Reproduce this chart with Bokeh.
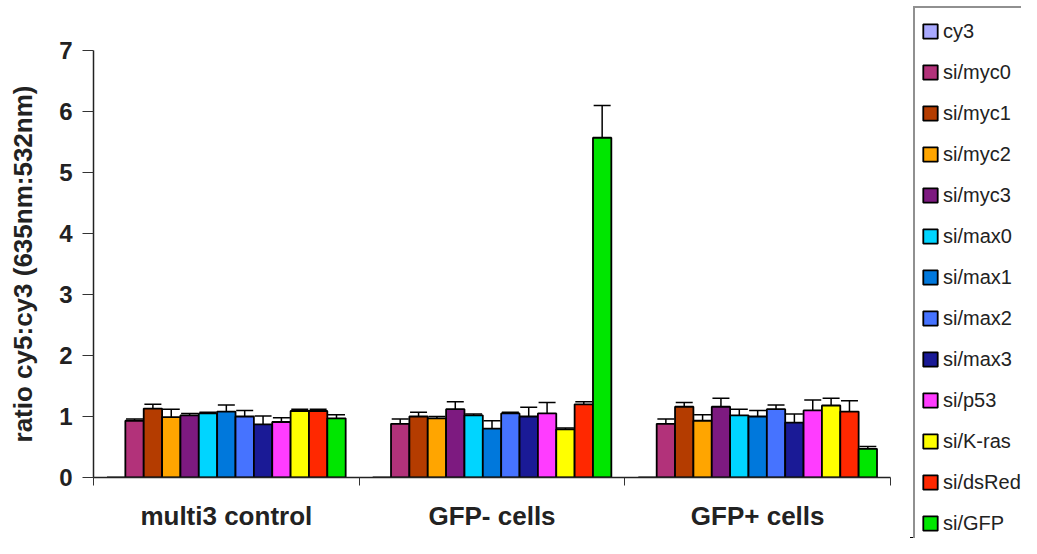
from bokeh.plotting import figure
from bokeh.layouts import row
from bokeh.models import (ColumnDataSource, FactorRange, Range1d, LinearAxis, CategoricalAxis,
                          FixedTicker, Whisker, TeeHead, Legend)
from bokeh.transform import dodge
from bokeh.embed import file_html
from bokeh.resources import INLINE

groups = ["multi3 control", "GFP- cells", "GFP+ cells"]
series = ["cy3", "si/myc0", "si/myc1", "si/myc2", "si/myc3", "si/max0", "si/max1",
          "si/max2", "si/max3", "si/p53", "si/K-ras", "si/dsRed", "si/GFP"]

cy3 = [0.0, 0.0, 0.0]
myc0 = [0.93, 0.88, 0.88]
myc1 = [1.13, 1.00, 1.16]
myc2 = [0.99, 0.97, 0.93]
myc3 = [1.02, 1.12, 1.16]
max0 = [1.05, 1.02, 1.02]
max1 = [1.08, 0.80, 1.00]
max2 = [1.00, 1.05, 1.12]
max3 = [0.87, 1.00, 0.90]
p53 = [0.91, 1.05, 1.10]
kras = [1.09, 0.79, 1.18]
dsred = [1.09, 1.20, 1.08]
gfp = [0.97, 5.57, 0.47]

err_cy3 = [0.0, 0.0, 0.0]
err_myc0 = [0.03, 0.08, 0.08]
err_myc1 = [0.07, 0.07, 0.07]
err_myc2 = [0.13, 0.03, 0.10]
err_myc3 = [0.03, 0.12, 0.14]
err_max0 = [0.02, 0.02, 0.10]
err_max1 = [0.11, 0.13, 0.10]
err_max2 = [0.10, 0.02, 0.07]
err_max3 = [0.14, 0.15, 0.14]
err_p53 = [0.07, 0.18, 0.17]
err_kras = [0.03, 0.02, 0.12]
err_dsred = [0.03, 0.04, 0.18]
err_gfp = [0.06, 0.53, 0.04]

values = [cy3, myc0, myc1, myc2, myc3, max0, max1, max2, max3, p53, kras, dsred, gfp]
errors = [err_cy3, err_myc0, err_myc1, err_myc2, err_myc3, err_max0, err_max1, err_max2,
          err_max3, err_p53, err_kras, err_dsred, err_gfp]

colors = ["#AAAAFF", "#B2327A", "#B43C00", "#FFA500", "#7D1A80", "#00D5FF", "#0078DC",
          "#4673FF", "#1A1A96", "#FF3CFF", "#FFFF00", "#FF2800", "#00E600"]

FONT = "Liberation Sans"

p = figure(width=900, height=538, output_backend="svg", toolbar_location=None,
           x_range=FactorRange(factors=groups, factor_padding=0, range_padding=0),
           y_range=Range1d(0, 7), x_axis_location=None,
           min_border_left=93, min_border_right=10, min_border_top=50, min_border_bottom=61)
p.frame_align = False
p.xgrid.grid_line_color = None
p.ygrid.grid_line_color = None
p.outline_line_color = None
p.background_fill_color = "white"
p.border_fill_color = "white"

nser = len(series)
w = 1.0 / (nser + 1.47)

data = {"groups": groups}
for i, (vals, errs) in enumerate(zip(values, errors)):
    data[f"v{i}"] = vals
    data[f"up{i}"] = [v + e for v, e in zip(vals, errs)]
    data[f"lo{i}"] = [v - e for v, e in zip(vals, errs)]
src = ColumnDataSource(data)

for i, name in enumerate(series):
    off = (i - (nser - 1) / 2) * w
    p.vbar(x=dodge("groups", off, range=p.x_range), top=f"v{i}", width=w, source=src,
           fill_color=colors[i], line_color="black", line_width=1.8)
    if i > 0:
        wh = Whisker(base=dodge("groups", off, range=p.x_range), upper=f"up{i}", lower=f"lo{i}",
                     source=src, line_color="black", line_width=1.5,
                     upper_head=TeeHead(size=17, line_color="black", line_width=1.5),
                     lower_head=TeeHead(size=17, line_color="black", line_width=1.5))
        p.add_layout(wh)

# y axis
ya = p.yaxis[0]
ya.ticker = FixedTicker(ticks=[0, 1, 2, 3, 4, 5, 6, 7])
ya.minor_tick_line_color = None
ya.major_tick_in = 0
ya.major_tick_out = 11
ya.major_tick_line_color = "#333333"
ya.axis_line_color = "#222222"
ya.axis_line_width = 1.5
ya.major_label_standoff = 10
ya.major_label_text_font = FONT
ya.major_label_text_font_style = "bold"
ya.major_label_text_font_size = "24px"
ya.major_label_text_color = "#222222"
ya.axis_label = "ratio cy5:cy3 (635nm:532nm)"
ya.axis_label_text_font = FONT
ya.axis_label_text_font_style = "bold"
ya.axis_label_text_font_size = "26px"
ya.axis_label_text_color = "#222222"
ya.axis_label_standoff = 18

# x axis: ticks at the group boundaries (synthetic coordinates of the factor range)
tick_axis = LinearAxis(ticker=FixedTicker(ticks=[0, 1, 2, 3]),
                       major_label_text_font_size="1px", major_label_text_color=None,
                       minor_tick_line_color=None,
                       major_tick_in=0, major_tick_out=8, major_tick_line_color="#333333",
                       axis_line_color="#222222", axis_line_width=1.5, major_label_standoff=0)
p.add_layout(tick_axis, "below")

cat_axis = CategoricalAxis(axis_line_color=None, major_tick_line_color=None,
                           minor_tick_line_color=None, major_label_standoff=9,
                           major_label_text_font=FONT, major_label_text_font_style="bold",
                           major_label_text_font_size="26px", major_label_text_color="#222222")
p.add_layout(cat_axis, "below")

# legend panel (separate figure placed to the right); its bar proxies lie outside its view
pl = figure(width=121, height=538, output_backend="svg", toolbar_location=None,
            x_range=FactorRange(factors=groups), y_range=Range1d(100, 101),
            x_axis_location=None, y_axis_location=None,
            min_border_left=0, min_border_right=0, min_border_top=0, min_border_bottom=0)
pl.frame_align = False
pl.xgrid.grid_line_color = None
pl.ygrid.grid_line_color = None
pl.outline_line_color = None
pl.background_fill_color = "white"
pl.border_fill_color = "white"
items = []
for i, name in enumerate(series):
    r = pl.vbar(x="groups", top=f"v{i}", width=0.5, source=src,
                fill_color=colors[i], line_color="black", line_width=1.8)
    items.append((name, [r]))

lg = Legend(items=items, location=(13, -10), orientation="vertical",
            label_text_font=FONT, label_text_font_size="20px", label_text_color="#222222",
            glyph_width=18, glyph_height=18, label_height=34, spacing=7, padding=6,
            margin=0, label_standoff=4, border_line_color="#222222", border_line_width=2,
            background_fill_color="white", background_fill_alpha=1.0)
pl.add_layout(lg, "center")

open("out.html", "w").write(file_html(row(p, pl), INLINE))
